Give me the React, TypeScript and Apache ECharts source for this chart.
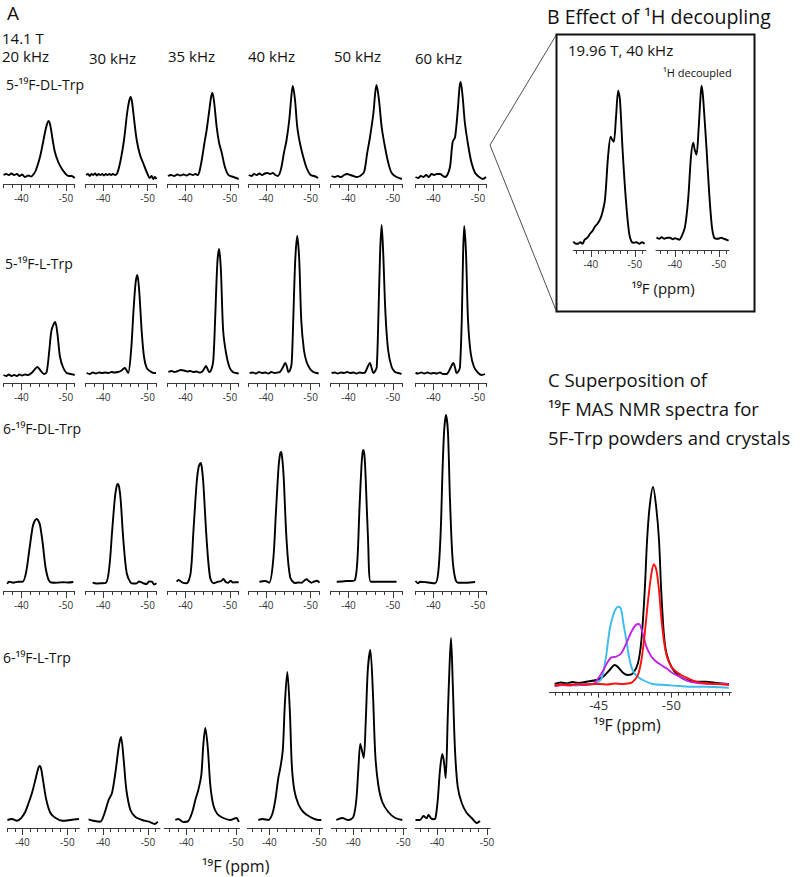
import React, { useEffect, useRef } from "react";
import * as echarts from "echarts";

const FONT = "'Open Sans', 'Noto Sans', sans-serif";

// ---------- tick values ----------
const A_TICKS = [-36, -38, -40, -42, -44, -46, -48, -50, -52];
const SIXTH_TICKS = [-36.67, -38.33, -40, -41.67, -43.33, -45, -46.67, -48.33, -50, -51.67];
const A_MAJOR = [-40, -50];
const C_TICKS = [-42, -42.5, -43, -43.5, -44, -44.5, -45, -45.5, -46, -46.5, -47, -47.5, -48, -48.5, -49, -49.5, -50, -50.5, -51, -51.5, -52, -52.5, -53, -53.5, -54];
const C_MAJOR = [-45, -50];

// ---------- texts ----------
const SPIN_RATES = ["20 kHz", "30 kHz", "35 kHz", "40 kHz", "50 kHz", "60 kHz"];
const SAMPLES = ["5-¹⁹F-DL-Trp", "5-¹⁹F-L-Trp", "6-¹⁹F-DL-Trp", "6-¹⁹F-L-Trp"];

// ---------- panel A spectra: [ppm, intensity] ----------
const R1C1 = [[-36.0,0],[-36.6,1],[-37.2,0],[-37.8,1.5],[-38.4,0],[-39.0,1],[-39.6,-1],[-40.2,0.5],[-40.8,-2],[-41.6,-0.5],[-42.2,-1.5],[-42.8,1],[-43.3,5],[-44.2,18],[-44.9,33],[-45.6,48],[-46.1,54],[-46.5,50],[-47.05,35],[-47.55,23],[-48.3,13],[-49.0,7],[-49.8,2],[-50.6,-1],[-51.3,-1],[-52.0,-3]];
const R1C2 = [[-36.2,0],[-36.6,1],[-37.0,-1],[-37.4,1],[-37.8,0],[-38.2,1.5],[-38.6,-0.5],[-39.0,1],[-39.4,0],[-39.8,1],[-40.2,-0.5],[-40.6,1],[-41.0,0],[-41.4,1],[-41.8,0],[-42.2,1],[-42.7,0],[-43.2,2],[-43.95,15],[-44.7,35],[-45.4,62],[-45.85,74],[-46.2,78],[-46.5,73],[-46.8,62],[-47.55,35],[-48.3,20],[-49.0,12],[-49.8,3],[-50.5,-3],[-50.9,-1],[-51.3,-4],[-51.6,-2],[-52.0,-4]];
const R1C3 = [[-36.1,-1],[-36.8,0],[-37.5,-1],[-38.2,0.5],[-38.9,-0.5],[-39.6,0.5],[-40.3,-0.5],[-41.0,1],[-41.7,0],[-42.3,1],[-42.8,0],[-43.15,3],[-43.7,15],[-44.3,32],[-44.8,45],[-45.4,65],[-45.8,78],[-46.1,82],[-46.5,72],[-47.05,48],[-47.6,32],[-48.2,22],[-48.9,8],[-49.7,0],[-50.8,-2],[-52.0,-4]];
const R1C4 = [[-36.1,0],[-36.7,-1],[-37.3,1],[-37.9,0],[-38.5,1.5],[-39.1,0],[-39.7,1.5],[-40.3,2],[-40.9,1],[-41.5,2],[-42.1,0],[-42.6,-1],[-43.3,5],[-44.0,22],[-44.6,35],[-45.2,55],[-45.7,80],[-46.0,89],[-46.5,75],[-47.0,48],[-47.6,32],[-48.35,18],[-49.1,7],[-50.0,0],[-50.8,-1],[-51.7,-3]];
const R1C5 = [[-36.2,-1],[-36.9,-2],[-37.6,-1],[-38.3,-2],[-39.0,0],[-39.7,1],[-40.4,0],[-41.1,-1],[-41.8,-2],[-42.6,-1],[-43.5,3],[-44.2,22],[-44.8,37],[-45.6,62],[-46.0,82],[-46.3,90],[-46.85,75],[-47.45,48],[-48.2,28],[-48.95,12],[-49.7,2],[-50.8,-2],[-52.0,-4]];
const R1C6 = [[-36.0,-2],[-36.6,-3],[-37.2,-1],[-37.8,-2],[-38.4,0],[-39.0,-2],[-39.6,1],[-40.2,0],[-40.8,1],[-41.5,1],[-42.2,-1],[-42.6,-2],[-43.15,0],[-43.75,8],[-44.35,33],[-44.9,38],[-45.5,65],[-45.9,88],[-46.15,93],[-46.6,78],[-47.1,52],[-47.9,28],[-48.6,12],[-49.4,2],[-50.3,-2],[-51.1,-4],[-51.85,-2]];

const R2C1 = [[-36.0,0],[-36.6,-1],[-37.2,0.5],[-37.8,-1],[-38.4,0],[-39.0,-1],[-39.6,0.5],[-40.2,-0.5],[-40.8,0.5],[-41.5,0],[-42.3,2],[-43.1,6],[-43.6,8],[-44.4,4],[-45.1,1],[-45.7,3],[-46.3,25],[-46.8,45],[-47.6,53],[-48.1,42],[-48.7,18],[-49.45,7],[-50.2,2],[-51.1,1],[-52.0,0]];
const R2C2 = [[-36.3,2],[-37.0,1],[-37.7,2.5],[-38.4,1.5],[-39.1,2.5],[-39.8,2],[-40.5,2.5],[-41.2,2],[-41.9,3],[-42.6,2.5],[-43.3,3],[-44.0,4],[-44.5,6],[-44.9,7],[-45.3,4.5],[-45.65,2],[-46.3,25],[-46.8,62],[-47.3,92],[-47.7,100],[-48.1,85],[-48.7,42],[-49.2,18],[-49.8,7],[-50.5,4],[-51.3,2],[-51.9,2]];
const R2C3 = [[-36.2,3],[-36.9,4],[-37.6,3],[-38.3,4],[-39.0,5],[-39.7,4.5],[-40.4,3.5],[-41.1,4],[-41.8,3],[-42.5,3.5],[-43.1,2.5],[-43.7,3],[-44.2,6],[-44.65,9],[-45.0,6],[-45.4,3],[-45.9,6],[-46.3,15],[-46.7,55],[-47.2,112],[-47.6,126],[-48.0,105],[-48.5,45],[-49.15,22],[-49.9,8],[-50.65,3],[-51.4,2],[-52.0,1.5]];
const R2C4 = [[-36.3,2],[-37.0,2.5],[-37.7,1.5],[-38.4,3],[-39.1,2],[-39.8,2.5],[-40.5,1.5],[-41.2,3],[-41.9,2],[-42.6,2.5],[-43.1,3],[-43.7,7],[-44.3,12],[-44.7,8],[-45.0,3],[-45.4,5],[-45.75,12],[-46.1,55],[-46.55,115],[-47.0,139],[-47.45,115],[-47.9,55],[-48.5,25],[-49.1,13],[-49.9,6],[-50.6,3],[-51.4,2],[-51.8,1.5]];
const R2C5 = [[-36.2,2],[-36.9,2.5],[-37.6,1.5],[-38.3,2.5],[-39.0,2],[-39.7,3],[-40.4,2],[-41.1,2.5],[-41.8,1.5],[-42.5,2.5],[-43.2,2],[-43.7,2.5],[-44.2,7],[-44.8,12],[-45.2,7],[-45.6,2],[-46.0,4],[-46.35,8],[-46.7,55],[-47.1,122],[-47.45,150],[-47.8,122],[-48.3,62],[-48.9,25],[-49.7,8],[-50.45,3],[-51.2,2],[-51.9,1]];
const R2C6 = [[-36.0,2],[-36.6,1.5],[-37.3,2.5],[-38.0,1.5],[-38.7,2.5],[-39.4,1.5],[-40.1,2],[-40.8,1.5],[-41.5,2.5],[-42.2,1],[-43.0,1],[-43.75,6],[-44.5,12],[-44.9,7],[-45.25,2],[-45.7,4],[-46.0,8],[-46.4,55],[-46.7,122],[-46.95,149],[-47.35,122],[-47.8,55],[-48.4,22],[-49.15,8],[-50.1,2],[-50.9,0],[-51.6,1]];

const R3C1 = [[-36.85,-1],[-37.2,1.3],[-38.2,0.3],[-39.3,1.3],[-40.3,1.3],[-41.05,10],[-41.8,33],[-42.55,56],[-43.0,62],[-43.45,64],[-43.8,62.5],[-44.2,58],[-44.8,40],[-45.55,13],[-46.45,1],[-47.6,0.3],[-48.5,0.5],[-49.4,0.7],[-50.5,0.5],[-51.7,1]];
const R3C2 = [[-37.65,0.3],[-38.5,-0.5],[-39.3,-0.3],[-40.65,0.3],[-41.4,16],[-42.0,50],[-42.6,83],[-43.0,96],[-43.3,99],[-43.6,96],[-43.95,83],[-44.55,43],[-45.3,10],[-46.2,0.3],[-46.9,-0.5],[-47.55,-0.3],[-48.1,1.5],[-48.65,0.7],[-49.2,-0.5],[-49.8,-1],[-50.3,1.5],[-50.95,1.3],[-51.5,-1.5],[-52.0,-0.3]];
const R3C3 = [[-38.05,1.3],[-38.5,3],[-39.4,0.3],[-40.3,-0.3],[-41.2,10],[-41.8,50],[-42.55,100],[-43.0,116],[-43.45,120],[-43.7,116],[-44.05,100],[-44.8,43],[-45.55,6],[-46.3,-0.3],[-47.4,1.3],[-48.1,2],[-48.55,4],[-49.1,1],[-49.65,0.3],[-50.2,2.3],[-50.7,0.5],[-51.2,0.7],[-52.0,0.7]];
const R3C4 = [[-38.5,1.3],[-39.2,1.8],[-39.75,2],[-40.7,0.3],[-41.6,23],[-42.2,70],[-42.8,116],[-43.1,128],[-43.35,131],[-43.6,126],[-43.95,106],[-44.6,43],[-45.4,6],[-46.5,0],[-47.3,0.5],[-48.0,0.3],[-48.6,2.5],[-49.1,3.7],[-49.6,2],[-50.2,0.3],[-50.8,1.5],[-51.4,2.3],[-52.0,0.3]];
const R3C5 = [[-37.35,1.3],[-38.5,1.5],[-39.6,2],[-40.5,2],[-41.45,3],[-42.0,23],[-42.45,73],[-42.9,116],[-43.15,130],[-43.35,133],[-43.6,127],[-43.85,106],[-44.4,43],[-45.0,1.3],[-46.3,1.3],[-48.6,1.3],[-50.8,1.3]];
const R3C6 = [[-36.0,2],[-36.6,-0.3],[-37.0,1.3],[-38.5,0.7],[-40.4,-0.3],[-41.1,10],[-41.65,50],[-42.1,116],[-42.45,153],[-42.85,168],[-43.3,150],[-43.75,83],[-44.3,26],[-44.9,5],[-45.6,0.3],[-47.5,0.3],[-49.4,1]];

const R4C1 = [[-36.7,0],[-37.7,1],[-38.8,-0.7],[-39.7,1.7],[-40.65,8],[-41.4,17],[-42.15,27],[-42.9,40],[-43.5,51],[-43.85,54],[-44.2,51],[-44.6,40],[-45.35,20],[-46.25,7],[-47.4,2],[-48.9,-0.7],[-50.7,0],[-52.6,1]];
const R4C2 = [[-36.8,0.7],[-37.9,-0.7],[-39.4,-1.7],[-40.35,7],[-41.25,20],[-42.0,27],[-42.75,47],[-43.5,73],[-44.0,83],[-44.6,60],[-45.2,30],[-46.1,10],[-47.2,3],[-48.7,0],[-50.2,-1.7],[-51.5,-4],[-52.2,-1.7]];
const R4C3 = [[-37.8,0],[-38.4,1],[-39.4,-2],[-40.4,-1],[-41.2,8],[-41.8,20],[-42.4,30],[-43.0,45],[-43.4,75],[-43.8,92],[-44.3,72],[-44.8,35],[-45.4,15],[-46.2,6],[-47.4,2],[-48.8,0],[-50.0,2],[-50.5,-2]];
const R4C4 = [[-37.8,0],[-38.6,1],[-39.8,0],[-40.6,6],[-41.2,20],[-41.8,42],[-42.2,52],[-42.7,70],[-43.1,115],[-43.6,148],[-44.1,110],[-44.5,55],[-45.0,30],[-45.8,16],[-46.8,8],[-48.2,3],[-49.8,0],[-50.4,0]];
const R4C5 = [[-36.6,0],[-37.8,2],[-39.0,0],[-40.0,3],[-40.6,20],[-41.0,50],[-41.4,76],[-41.8,68],[-42.1,62],[-42.5,100],[-42.9,150],[-43.4,170],[-43.9,130],[-44.4,65],[-45.0,35],[-45.8,18],[-47.0,8],[-48.4,2],[-49.8,0]];
const R4C6 = [[-35.7,0],[-36.6,0],[-37.3,4],[-37.9,1.7],[-38.3,5],[-38.8,1.7],[-39.3,0.7],[-39.7,2],[-40.15,20],[-40.6,50],[-41.06,66],[-41.4,58],[-41.74,42],[-42.15,103],[-42.5,153],[-42.8,182],[-43.15,137],[-43.6,70],[-44.15,33],[-44.95,17],[-45.95,7],[-46.95,2],[-47.95,-3],[-48.6,-1]];

const A_SPECTRA = [
  [R1C1, R1C2, R1C3, R1C4, R1C5, R1C6],
  [R2C1, R2C2, R2C3, R2C4, R2C5, R2C6],
  [R3C1, R3C2, R3C3, R3C4, R3C5, R3C6],
  [R4C1, R4C2, R4C3, R4C4, R4C5, R4C6],
];

// ---------- panel B spectra ----------
const B_UNDECOUPLED = [[-36.0,1],[-36.6,-1],[-37.1,-1],[-37.6,0.5],[-38.1,-1],[-38.6,3],[-39.2,5],[-39.8,9],[-40.4,12],[-40.9,16],[-41.5,19],[-42.05,23],[-42.6,30],[-43.2,43],[-43.9,86],[-44.5,106],[-44.85,103],[-45.2,101],[-45.7,125],[-46.2,152],[-46.6,143],[-47.2,93],[-47.95,43],[-48.7,9],[-49.25,1],[-49.8,0],[-50.4,0.5],[-51.0,-1],[-51.6,0.5],[-52.2,-1]];
const B_DECOUPLED = [[-35.8,5],[-36.4,4],[-37.0,5.5],[-37.6,4],[-38.3,5],[-38.9,5],[-39.5,3.5],[-40.0,4.5],[-40.4,4],[-41.0,3],[-41.5,6],[-42.3,16],[-43.0,43],[-43.65,86],[-44.15,100],[-44.5,93],[-44.9,88],[-45.4,115],[-45.8,145],[-46.05,157],[-46.3,150],[-46.6,133],[-47.2,93],[-47.8,49],[-48.4,16],[-48.9,5],[-49.4,4],[-49.9,4],[-50.5,5],[-51.1,4],[-51.7,3],[-52.2,2]];

// ---------- panel C spectra ----------
const C_BLACK = [[-41.97,0],[-42.4,1.5],[-42.8,0.5],[-43.2,2],[-43.6,1],[-44.15,2.3],[-44.84,4],[-45.3,7.3],[-45.75,14],[-46.1,19],[-46.3,17.3],[-46.67,11.3],[-47.0,9],[-47.36,10.7],[-47.7,20.7],[-47.94,44],[-48.17,94],[-48.33,144],[-48.51,178],[-48.74,197],[-48.97,175],[-49.15,144],[-49.3,94],[-49.48,50.7],[-49.66,30.7],[-50.0,17.3],[-50.45,9],[-51.03,4],[-51.72,2.3],[-52.4,2.3],[-53.1,1],[-53.97,0]];
const C_CYAN = [[-41.97,-2],[-42.5,-1],[-43.0,-0.5],[-43.5,-1.5],[-44.0,0],[-44.5,-0.5],[-44.84,1],[-45.2,5.7],[-45.5,27],[-45.75,54],[-46.0,69],[-46.2,75.7],[-46.4,77.3],[-46.55,74],[-46.7,60.7],[-46.9,44],[-47.13,24],[-47.36,13],[-47.7,7],[-48.17,3],[-48.74,0],[-49.66,-1],[-50.57,-2],[-51.5,-2.7],[-52.4,-2.7],[-53.3,-3.3],[-53.95,-3.7]];
const C_MAGENTA = [[-41.97,-2],[-42.5,-1],[-43.0,-1.5],[-43.5,-0.5],[-44.0,-1],[-44.5,0],[-44.7,0.7],[-45.2,10.7],[-45.57,20.7],[-45.87,26.7],[-46.2,27.3],[-46.55,30.7],[-46.9,40.7],[-47.25,52.3],[-47.55,59],[-47.77,60],[-48.0,52.3],[-48.28,37.3],[-48.63,27.3],[-48.97,22.3],[-49.3,19],[-49.66,15.7],[-50.1,10.7],[-50.57,7.3],[-51.26,2.3],[-51.95,0.7],[-52.9,0],[-53.95,0]];
const C_RED = [[-41.97,-1.7],[-42.5,-0.5],[-43.0,-1],[-43.5,0],[-44.15,-0.5],[-44.6,0],[-45.1,0],[-45.6,-0.5],[-46.1,0.5],[-46.6,0],[-47.13,0.7],[-47.36,2.3],[-47.7,9],[-47.94,24],[-48.17,50.7],[-48.4,84],[-48.63,110.7],[-48.8,119.7],[-48.97,114],[-49.15,94],[-49.3,67.3],[-49.48,44],[-49.7,27.3],[-50.0,17.3],[-50.34,12.3],[-50.68,9],[-51.15,5.7],[-51.72,2.3],[-52.4,0.7],[-53.1,0],[-53.97,-1]];

// ---------- layout ----------
const ROW_AXIS_Y = [184, 383, 591, 828];
const ROW_YMIN = [-9, -8, -8, -8];
const ROW_YMAX = [97, 155, 172, 186];
const COL_LEFT_123 = [3.5, 85.3, 167.5, 248.3, 330.7, 415.5];
const COL_LEFT_4 = [7.3, 88, 164.3, 247.3, 331.3, 415];

export default function App() {
  const ref = useRef<HTMLDivElement>(null);
  useEffect(() => {
    const el = ref.current!;
    const chart = echarts.init(el, null, { renderer: "svg" });
    const grids: any[] = [];
    const xAxes: any[] = [];
    const yAxes: any[] = [];
    const series: any[] = [];

    function addPanel(o: any) {
      const gi = grids.length;
      const h = o.yMax - o.yMin;
      grids.push({
        left: o.left, top: o.axisY - h, width: (o.xLeft - o.xRight) * o.ppx, height: h,
        containLabel: false, outerBoundsMode: "none", show: false,
      });
      const inRange = (t: number) => t <= o.xLeft + 1e-6 && t >= o.xRight - 1e-6;
      const common = {
        gridIndex: gi, type: "value", min: o.xRight, max: o.xLeft, inverse: true,
        position: "bottom", splitLine: { show: false },
      };
      const xi = xAxes.length;
      xAxes.push({
        ...common,
        axisLine: { show: true, onZero: false, lineStyle: { color: "#3a3a3a", width: 1 } },
        axisTick: { show: true, customValues: o.ticks.filter(inRange), length: o.tickLen, lineStyle: { color: "#3a3a3a", width: 1 } },
        axisLabel: { show: false },
      });
      xAxes.push({
        ...common,
        axisLine: { show: false, onZero: false },
        axisTick: { show: true, customValues: o.major, length: o.majorLen, lineStyle: { color: "#3a3a3a", width: 1 } },
        axisLabel: {
          show: true, customValues: o.major, fontSize: o.labelSize, color: "#333",
          fontFamily: FONT, margin: o.labelMargin, formatter: (v: number) => String(v),
        },
      });
      yAxes.push({ gridIndex: gi, type: "value", min: o.yMin, max: o.yMax, show: false });
      o.lines.forEach((ln: any) => {
        series.push({
          type: "line", xAxisIndex: xi, yAxisIndex: gi, data: ln.data, symbol: "none",
          smooth: 0.3, clip: false, silent: true,
          lineStyle: { color: ln.color, width: ln.width },
        });
      });
    }

    // Panel A
    A_SPECTRA.forEach((row, r) => {
      row.forEach((spec, c) => {
        let left, xLeft, xRight, ppx, ticks;
        if (r < 3) {
          left = COL_LEFT_123[c]; xLeft = -36; xRight = -52; ppx = 4.45; ticks = A_TICKS;
        } else if (c < 2) {
          left = COL_LEFT_4[c]; xLeft = -36.67; xRight = -52.67; ppx = 4.5; ticks = SIXTH_TICKS;
        } else {
          left = COL_LEFT_4[c]; xLeft = -35.6; xRight = -50.66; ppx = 5; ticks = SIXTH_TICKS;
        }
        addPanel({
          left, axisY: ROW_AXIS_Y[r], xLeft, xRight, ppx, yMin: ROW_YMIN[r], yMax: ROW_YMAX[r],
          ticks, major: A_MAJOR, tickLen: 4, majorLen: 7, labelSize: 10, labelMargin: 9,
          lines: [{ data: spec, color: "#000", width: 1.9 }],
        });
      });
    });

    // Panel B
    addPanel({
      left: 573.3, axisY: 250, xLeft: -36, xRight: -52.5, ppx: 4.4, yMin: -7.3, yMax: 160,
      ticks: SIXTH_TICKS, major: A_MAJOR, tickLen: 4, majorLen: 7, labelSize: 10, labelMargin: 9,
      lines: [{ data: B_UNDECOUPLED, color: "#000", width: 1.9 }],
    });
    addPanel({
      left: 656, axisY: 250, xLeft: -35.7, xRight: -52.3, ppx: 4.4, yMin: -7.3, yMax: 160,
      ticks: SIXTH_TICKS, major: A_MAJOR, tickLen: 4, majorLen: 7, labelSize: 10, labelMargin: 9,
      lines: [{ data: B_DECOUPLED, color: "#000", width: 1.9 }],
    });

    // Panel C
    addPanel({
      left: 549.3, axisY: 692.7, xLeft: -41.6, xRight: -54.13, ppx: 14.53, yMin: -8.7, yMax: 200,
      ticks: C_TICKS, major: C_MAJOR, tickLen: 3, majorLen: 5, labelSize: 13, labelMargin: 6,
      lines: [
        { data: C_BLACK, color: "#000", width: 1.9 },
        { data: C_CYAN, color: "#3cbcec", width: 1.9 },
        { data: C_MAGENTA, color: "#c423e6", width: 1.9 },
        { data: C_RED, color: "#ff1010", width: 1.9 },
      ],
    });

    const T = (text: string, x: number, y: number, size: number, align = "left") => ({
      type: "text", x, y, silent: true,
      style: { text, fontSize: size, fontFamily: FONT, fill: "#111", textAlign: align, textVerticalAlign: "middle" },
    });
    const SPIN_X = [2, 89, 168, 248, 334, 415];
    const SPIN_Y = [56, 58, 56, 56, 56, 58];
    const SAMPLE_POS = [[6, 84], [5, 263], [3, 428], [3, 657]];
    const elements: any[] = [
      T("A", 7, 13, 19),
      T("14.1 T", 2, 38, 15),
      ...SPIN_RATES.map((s, i) => T(s, SPIN_X[i], SPIN_Y[i], 15)),
      ...SAMPLES.map((s, i) => T(s, SAMPLE_POS[i][0], SAMPLE_POS[i][1], 14)),
      T("¹⁹F (ppm)", 202, 866, 16),
      T("B Effect of ¹H decoupling", 547, 16, 19.5),
      T("19.96 T, 40 kHz", 568, 50, 15),
      T("¹H decoupled", 663, 72, 11),
      T("¹⁹F (ppm)", 663, 288, 15, "center"),
      T("C Superposition of", 548, 379, 18.5),
      T("¹⁹F MAS NMR spectra for", 548, 408, 18.5),
      T("5F-Trp powders and crystals", 548, 437, 18.5),
      T("¹⁹F (ppm)", 627, 725, 16, "center"),
      { type: "rect", silent: true, shape: { x: 556.5, y: 34.5, width: 198, height: 277 }, style: { fill: "none", stroke: "#111", lineWidth: 2 } },
      { type: "line", silent: true, shape: { x1: 490, y1: 145, x2: 556.5, y2: 34.5 }, style: { stroke: "#222", lineWidth: 0.8 } },
      { type: "line", silent: true, shape: { x1: 490, y1: 145, x2: 556.5, y2: 311.5 }, style: { stroke: "#222", lineWidth: 0.8 } },
    ];

    chart.setOption({
      animation: false,
      grid: grids,
      xAxis: xAxes,
      yAxis: yAxes,
      series,
      graphic: { elements },
    });
    return () => chart.dispose();
  }, []);
  return (
    <div
      ref={ref}
      style={{ position: "absolute", left: 0, top: 0, width: 800, height: 877, background: "#fff" }}
    />
  );
}
